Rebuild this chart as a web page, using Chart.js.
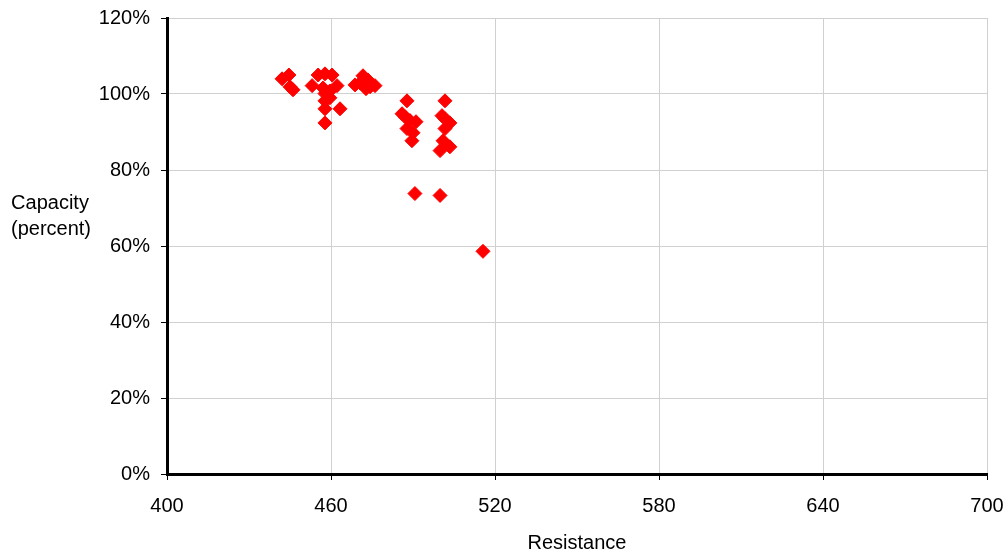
<!DOCTYPE html>
<html>
<head>
<meta charset="utf-8">
<script src="https://cdn.jsdelivr.net/npm/chart.js@4"></script>
<style>
  html, body { margin: 0; padding: 0; background: #fff; }
  #wrap { width: 1008px; height: 552px; position: relative; }
</style>
</head>
<body>
<div id="wrap"><canvas id="mycanvas"></canvas></div>
<script>
// resistance (x) and capacity in percent (y)
var resistance = [
  442.1, 444.6, 445.0, 446.1,
  453.1, 455.3, 457.8, 460.4, 462.2, 457.1, 457.8, 459.6, 457.8, 457.8, 463.3, 457.8, 459.6,
  468.8, 470.6, 471.7, 473.5, 474.3, 476.1, 472.8,
  487.8, 486.0, 487.1, 488.9, 491.1, 487.8, 490.0, 489.6, 490.7,
  501.7, 500.6, 501.7, 503.5, 501.7, 501.0, 503.5, 499.9, 499.9,
  515.6
];
var capacity = [
  104.0, 105.0, 101.9, 101.1,
  102.2, 105.0, 105.3, 105.0, 102.2, 101.6, 100.1, 100.8, 98.2, 96.1, 96.1, 92.4, 99.0,
  102.4, 102.9, 104.8, 103.7, 101.9, 102.2, 101.4,
  98.2, 94.8, 94.0, 93.0, 92.7, 90.9, 89.8, 87.7, 73.8,
  98.2, 94.3, 93.5, 92.4, 90.9, 87.7, 86.1, 85.1, 73.3,
  58.6
];
var xTitle = 'Resistance';
var yTitle = ['Capacity', '(percent)'];

var points = [];
for (var i in resistance) {
  points.push({x: resistance[i], y: capacity[i]});
}

var fnt = "'Liberation Sans', Arial, sans-serif";

var titles = {
  id: 'titles',
  afterDraw: function(chart) {
    var c = chart.ctx;
    var a = chart.chartArea;
    c.save();
    c.fillStyle = '#000';
    c.font = '20px ' + fnt;
    c.textAlign = 'center';
    c.textBaseline = 'middle';
    c.fillText(xTitle, (a.left + a.right) / 2, 543);
    c.fillText(yTitle[0], 50, 203);
    c.fillText(yTitle[1], 51, 229);
    c.restore();
  }
};

// no extra room for overhanging tick labels, the layout padding sets the plot box
function noOverhang(s) {
  s.paddingTop = 0; s.paddingBottom = 0; s.paddingLeft = 0; s.paddingRight = 0;
}

var ctx = document.getElementById('mycanvas');
var myChart = new Chart(ctx, {
  type: 'scatter',
  data: {
    datasets: [{
      data: points,
      pointStyle: 'rectRot',
      pointRadius: 7,
      pointHoverRadius: 7,
      borderWidth: 1,
      backgroundColor: '#ff0000',
      borderColor: '#ff0000'
    }]
  },
  options: {
    responsive: true,
    maintainAspectRatio: false,
    animation: false,
    events: [],
    layout: { padding: { top: 18, right: 21, left: 0, bottom: 0 } },
    plugins: { legend: { display: false }, tooltip: { enabled: false } },
    scales: {
      x: {
        type: 'linear',
        min: 400, max: 700,
        afterFit: function(s) { s.height = 78; noOverhang(s); },
        ticks: { stepSize: 60, color: '#000', padding: 14, font: { family: fnt, size: 20 } },
        grid: { color: '#d0d0d0', tickColor: '#000', tickLength: 6 },
        border: { color: '#000', width: 3 }
      },
      y: {
        min: 0, max: 120,
        afterFit: function(s) { s.width = 167; noOverhang(s); },
        ticks: {
          stepSize: 20, color: '#000', padding: 11,
          font: { family: fnt, size: 20 },
          callback: function(v) { return v + '%'; }
        },
        grid: { color: '#d0d0d0', tickColor: '#000', tickLength: 6 },
        border: { color: '#000', width: 3 }
      }
    }
  },
  plugins: [titles]
});
</script>
</body>
</html>
